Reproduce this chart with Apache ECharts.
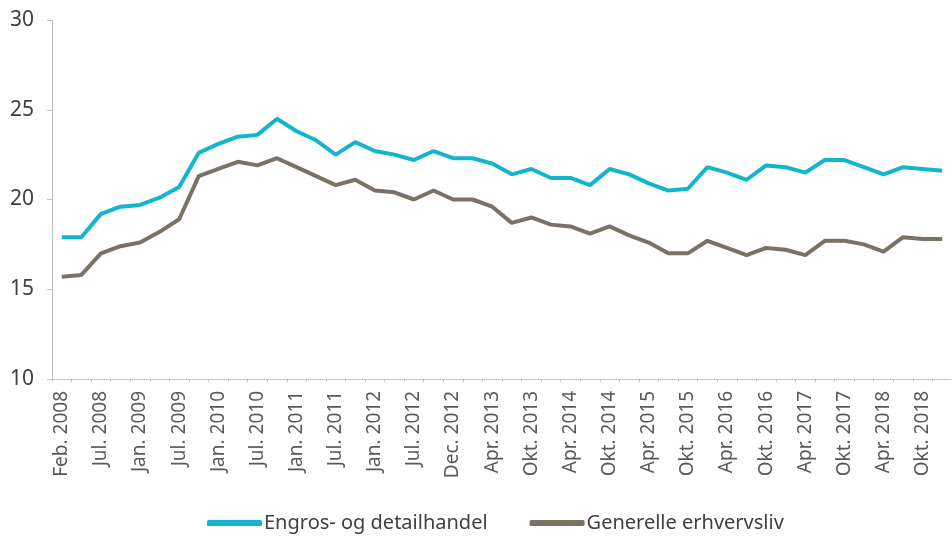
<!DOCTYPE html>
<html>
<head>
<meta charset="utf-8">
<script src="https://cdn.jsdelivr.net/npm/echarts@6/dist/echarts.min.js"></script>
<style>
  html, body { margin: 0; padding: 0; background: #fff; }
  #chart { width: 952px; height: 540px; }
</style>
</head>
<body>
<div id="chart"></div>
<script>
// kategorier (annenhver vises som etikett)
var categories = [
  'Feb. 2008', 'Apr. 2008', 'Jul. 2008', 'Okt. 2008', 'Jan. 2009', 'Apr. 2009',
  'Jul. 2009', 'Okt. 2009', 'Jan. 2010', 'Apr. 2010', 'Jul. 2010', 'Okt. 2010',
  'Jan. 2011', 'Apr. 2011', 'Jul. 2011', 'Okt. 2011', 'Jan. 2012', 'Apr. 2012',
  'Jul. 2012', 'Okt. 2012', 'Dec. 2012', 'Feb. 2013', 'Apr. 2013', 'Jul. 2013',
  'Okt. 2013', 'Jan. 2014', 'Apr. 2014', 'Jul. 2014', 'Okt. 2014', 'Jan. 2015',
  'Apr. 2015', 'Jul. 2015', 'Okt. 2015', 'Jan. 2016', 'Apr. 2016', 'Jul. 2016',
  'Okt. 2016', 'Jan. 2017', 'Apr. 2017', 'Jul. 2017', 'Okt. 2017', 'Jan. 2018',
  'Apr. 2018', 'Jul. 2018', 'Okt. 2018', 'Jan. 2019'
];
var engros = [
  17.9, 17.9, 19.2, 19.6, 19.7, 20.1, 20.7, 22.6, 23.1, 23.5, 23.6, 24.5,
  23.8, 23.3, 22.5, 23.2, 22.7, 22.5, 22.2, 22.7, 22.3, 22.3, 22.0, 21.4,
  21.7, 21.2, 21.2, 20.8, 21.7, 21.4, 20.9, 20.5, 20.6, 21.8, 21.5, 21.1,
  21.9, 21.8, 21.5, 22.2, 22.2, 21.8, 21.4, 21.8, 21.7, 21.6
];
var generelle = [
  15.7, 15.8, 17.0, 17.4, 17.6, 18.2, 18.9, 21.3, 21.7, 22.1, 21.9, 22.3,
  21.8, 21.3, 20.8, 21.1, 20.5, 20.4, 20.0, 20.5, 20.0, 20.0, 19.6, 18.7,
  19.0, 18.6, 18.5, 18.1, 18.5, 18.0, 17.6, 17.0, 17.0, 17.7, 17.3, 16.9,
  17.3, 17.2, 16.9, 17.7, 17.7, 17.5, 17.1, 17.9, 17.8, 17.8
];
var yTicks = [10, 15, 20, 25, 30];

var myChart = echarts.init(document.getElementById('chart'));
var font = 'Noto Sans';
var option = {
  animation: false,
  textStyle: { fontFamily: font },
  legend: {
    top: 508,
    left: 202,
    itemGap: 42,
    itemWidth: 55,
    itemHeight: 6,
    icon: 'roundRect',
    textStyle: { fontSize: 20, color: '#404040', fontFamily: font, padding: [0, 0, 0, -3] },
    data: ['Engros- og detailhandel', 'Generelle erhvervsliv']
  },
  grid: { left: 52, top: 20, right: 0, bottom: 161, containLabel: false },
  xAxis: {
    type: 'category',
    boundaryGap: true,
    data: categories,
    axisLine: { lineStyle: { color: '#bfbfbf', type: 'dotted', width: 1 } },
    axisTick: { show: true, interval: 0, length: 3, lineStyle: { color: '#bfbfbf' } },
    axisLabel: { interval: 1, rotate: 90, fontSize: 19, color: '#595959', margin: 12 }
  },
  yAxis: {
    type: 'value',
    min: yTicks[0],
    max: yTicks[yTicks.length - 1],
    interval: 5,
    splitLine: { show: false },
    axisLine: { show: true, lineStyle: { color: '#bfbfbf' } },
    axisTick: { show: true, length: 5, lineStyle: { color: '#bfbfbf' } },
    axisLabel: { fontSize: 21, color: '#404040', margin: 18 }
  },
  series: [
    {
      name: 'Engros- og detailhandel',
      type: 'line',
      data: engros,
      symbol: 'none',
      lineStyle: { width: 4, color: '#14b4cf' },
      itemStyle: { color: '#14b4cf' }
    },
    {
      name: 'Generelle erhvervsliv',
      type: 'line',
      data: generelle,
      symbol: 'none',
      lineStyle: { width: 4, color: '#7a7264' },
      itemStyle: { color: '#7a7264' }
    }
  ]
};
myChart.setOption(option);
</script>
</body>
</html>
